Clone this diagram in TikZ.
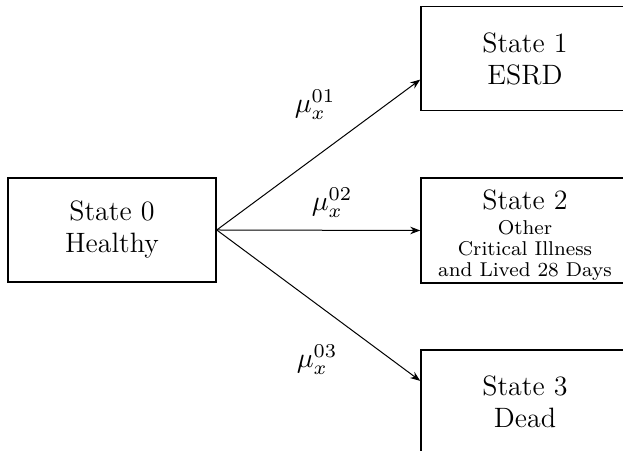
\RequirePackage{fix-cm}
\documentclass[tikz,border=0pt]{standalone}
\usepackage{tikz}
\usetikzlibrary{arrows.meta,calc}

\tikzset{
  statebox/.style={draw, line width=0.6pt, minimum width=83.2pt, minimum height=41.6pt,
    align=center, inner sep=0pt, font=\fontsize{11.2}{12.8}\selectfont},
  trans/.style={-{Stealth[length=4pt,width=3pt]}, line width=0.4pt}
}
\newcommand{\smalllines}[1]{{\fontsize{8}{8.4}\selectfont
  \begin{tabular}[t]{@{}c@{}}#1\end{tabular}}}

\begin{document}
\begin{tikzpicture}[x=0.4pt, y=-0.4pt, font=\fontsize{11.2}{12.8}\selectfont]

    \useasboundingbox (0, 0) rectangle (623, 451);

    \node[statebox] (s0) at (112, 230) {State 0\\Healthy};
    \node[statebox] (s1) at (525, 58.5) {State 1\\ESRD};
    \node[statebox] (s2) at (525, 230.5) {\rule{0pt}{12.5pt}State 2\\[-2.6pt]\smalllines{Other\\Critical Illness\\and Lived 28 Days}};
    \node[statebox] (s3) at (525, 402) {State 3\\Dead};

    \node (m1) at (315, 105) {$\mu_x^{01}$};
    \node (m2) at (332, 203) {$\mu_x^{02}$};
    \node (m3) at (317, 360) {$\mu_x^{03}$};

    \draw[trans] (s0.east) -- ($(s1.south west)!0.3!(s1.north west)$);
    \draw[trans] (s0.east) -- (s2.west);
    \draw[trans] (s0.east) -- ($(s3.north west)!0.3!(s3.south west)$);
  \end{tikzpicture}
\end{document}
